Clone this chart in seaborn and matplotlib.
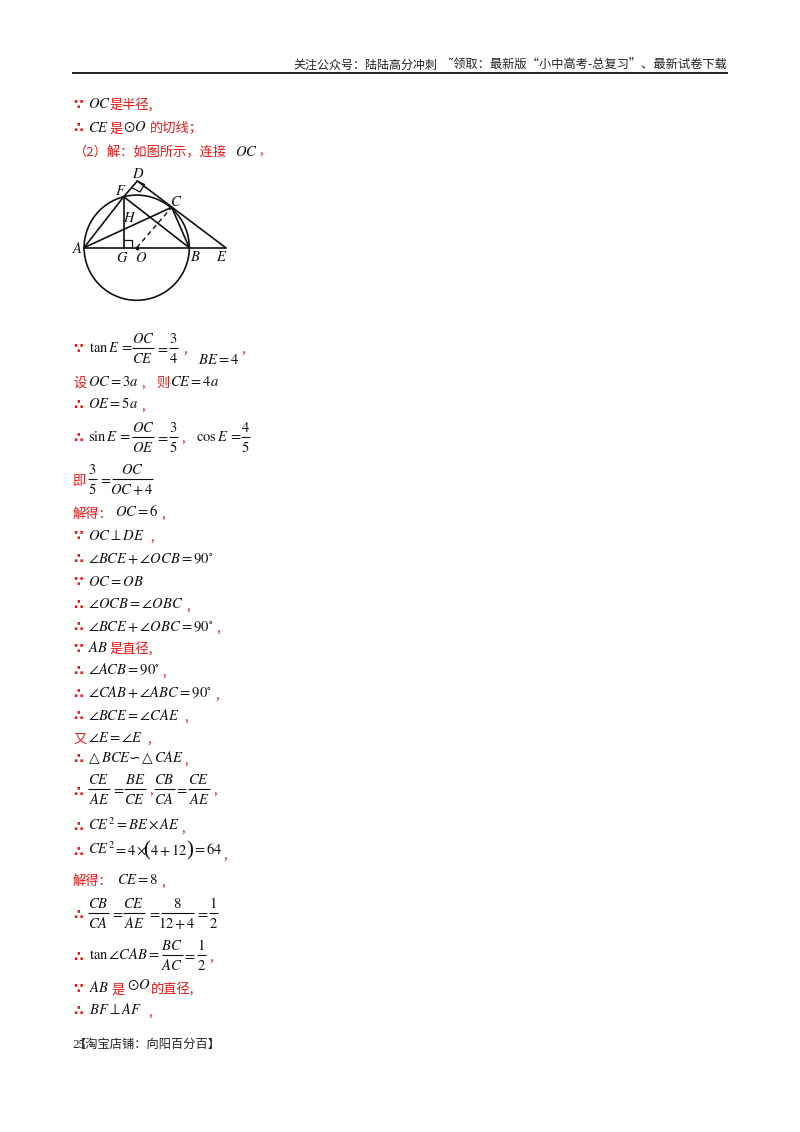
import matplotlib
matplotlib.use("Agg")
import matplotlib.pyplot as plt
from matplotlib.patches import Circle
import pandas as pd
import seaborn as sns

# ---------- text content ----------
HEADER_LEFT = "关注公众号：陆陆高分冲刺"
HEADER_RIGHT = "˜领取：最新版“小中高考-总复习”、最新试卷下载"
FOOTER = "【淘宝店铺：向阳百分百】"
PAGE_NUMBER = "25"
BECAUSE, THEREFORE = "∵", "∴"
SOLVE = "解得："

# ---------- geometry of the figure ----------
POINT_NAMES = ["A", "B", "O", "E", "F", "G", "C", "D", "H"]
POINT_X = [84.0, 189.3, 136.7, 225.7, 123.7, 123.7, 171.7, 137.3, 123.7]
POINT_Y = [247.7, 247.7, 247.7, 247.7, 196.7, 247.7, 207.3, 181.0, 220.0]
SOLID_SEGMENTS = ["AE", "AF", "FG", "AC", "FB", "CB", "DE", "FD"]
DASHED_SEGMENTS = ["OC"]
CIRCLE_RADIUS = 52.6

sns.set_theme(style="white")
plt.rcParams["font.family"] = ["Noto Sans CJK SC", "DejaVu Sans"]
plt.rcParams["mathtext.fontset"] = "stix"
RED = "#f01414"
INK = "#111111"
CJK = 9.5
MATH = 10.5

fig = plt.figure(figsize=(8, 11.32), dpi=100, facecolor="white")
ax = fig.add_axes([0, 0, 1, 1])
ax.set_xlim(0, 800)
ax.set_ylim(1132, 0)
ax.axis("off")


def red(x, y, s, size=CJK):
    ax.text(x, y + 4.5, s, color=RED, fontsize=size, va="baseline", ha="left")


def dots(y, s):
    ax.text(73, y + 4, s, color=RED, fontsize=10, va="baseline", ha="left",
            family="DejaVu Sans", weight="bold")


def mth(x, y, s, size=MATH):
    ax.text(x, y + 4.5, "$" + s + "$", color=INK, fontsize=size, va="baseline", ha="left")


def comma(x, y):
    red(x, y, ",", 9)


def frac(cx, y, num, den, width):
    ax.text(cx, y - 5, "$" + num + "$", color=INK, fontsize=MATH, ha="center", va="baseline")
    ax.text(cx, y + 15, "$" + den + "$", color=INK, fontsize=MATH, ha="center", va="baseline")
    ax.plot([cx - width / 2, cx + width / 2], [y, y], color=INK, lw=0.8, solid_capstyle="butt")


def eq(cx, y):
    ax.text(cx, y + 4.5, "$=$", color=INK, fontsize=MATH, ha="center", va="baseline")


def glyph(x, y, s, size):
    ax.text(x, y + 4.5, s, color=INK, fontsize=size, va="baseline", ha="left", family="DejaVu Sans")


# ---------- header ----------
ax.text(293, 69, HEADER_LEFT, fontsize=8.65, color="#222222", va="baseline")
ax.text(448, 69, HEADER_RIGHT, fontsize=8.85, color="#222222", va="baseline")
ax.plot([72, 728], [72.5, 72.5], color="#222222", lw=1.4, solid_capstyle="butt")

# ---------- top lines ----------
dots(105, BECAUSE); mth(88, 104, "OC"); red(110, 105, "是半径,")
dots(128, THEREFORE); mth(88, 127, "CE"); red(110, 128, "是")
mth(123, 127, r"\odot O"); red(150, 128, "的切线；")
red(74, 152, "（2）解：如图所示，连接"); mth(235, 151, "OC"); comma(259, 150)

# ---------- diagram ----------
pts = pd.DataFrame({"x": POINT_X, "y": POINT_Y}, index=POINT_NAMES)


def segment(name, **kw):
    df = pts.loc[list(name)]
    sns.lineplot(data=df, x="x", y="y", sort=False, estimator=None, ax=ax,
                 color=INK, legend=False, **kw)


for s in SOLID_SEGMENTS:
    segment(s, lw=1.2)
for s in DASHED_SEGMENTS:
    segment(s, lw=1.0, linestyle=(0, (3.5, 2.5)))
ax.add_patch(Circle((pts.x["O"], pts.y["O"]), CIRCLE_RADIUS, fill=False, ec=INK, lw=1.2))
sns.scatterplot(data=pts.loc[["O"]], x="x", y="y", ax=ax, color=INK, s=9, legend=False)
# right-angle marks
ax.plot([123.7, 132, 132], [240, 240, 247.7], color=INK, lw=0.9)
ax.plot([132.5, 140, 144.5, 137.3], [188, 192, 184.5, 181], color=INK, lw=0.9)
for name, lx, ly in [("D", 138, 178), ("F", 121, 195), ("C", 176, 206), ("H", 130, 222),
                     ("A", 77, 253), ("G", 122, 262), ("O", 141, 262), ("B", 195, 261),
                     ("E", 222, 261)]:
    ax.text(lx, ly, "$" + name + "$", color=INK, fontsize=10.5, ha="center", va="baseline")

# ---------- tan E ----------
dots(349, BECAUSE)
mth(89, 347.5, r"\mathrm{tan}\,E\,="); frac(143, 348, "OC", "CE", 22); eq(162, 347.5)
frac(173, 348, "3", "4", 9); comma(183, 349)
mth(198, 359, "BE=4"); comma(241, 349)
red(73, 382, "设"); mth(88, 381, "OC=3a"); comma(141, 383); red(156, 382, "则"); mth(170, 381, "CE=4a")
dots(405, THEREFORE); mth(88, 404, "OE=5a"); comma(141, 406)
dots(438, THEREFORE)
mth(88, 436.5, r"\mathrm{sin}\,E\,="); frac(143, 437, "OC", "OE", 22); eq(162, 436.5)
frac(173, 437, "3", "5", 9); comma(181, 438)
mth(196, 436.5, r"\mathrm{cos}\,E\,="); frac(245, 437, "4", "5", 9)
red(72, 480, "即"); frac(92, 479, "3", "5", 9); eq(105, 478.5)
frac(132, 479, "OC", "OC+4", 41)

# ---------- chain of steps ----------
red(73, 513, SOLVE); mth(115, 512, "OC=6"); comma(161, 514)
dots(536, BECAUSE); mth(88, 535, r"OC\perp DE"); comma(150, 537)
dots(559, THEREFORE); mth(88, 558, r"\angle BCE+\angle OCB=90^{\circ}")
dots(582, BECAUSE); mth(88, 581, "OC=OB")
dots(605, THEREFORE); mth(88, 604, r"\angle OCB=\angle OBC"); comma(186, 606)
dots(627, THEREFORE); mth(88, 626, r"\angle BCE+\angle OBC=90^{\circ}"); comma(216, 628)
dots(649, BECAUSE); mth(88, 648, "AB"); red(110, 649, "是直径,")
dots(671, THEREFORE); mth(88, 670, r"\angle ACB=90^{\circ}"); comma(162, 672)
dots(694, THEREFORE); mth(88, 693, r"\angle CAB+\angle ABC=90^{\circ}"); comma(215, 695)
dots(716, THEREFORE); mth(88, 715, r"\angle BCE=\angle CAE"); comma(184, 717)
red(73, 738, "又"); mth(88, 737, r"\angle E=\angle E"); comma(147, 739)
dots(759, THEREFORE)
glyph(89, 758, "△", 10); mth(101, 758, "BCE"); glyph(129, 757, "∽", 10)
glyph(142, 758, "△", 10); mth(154, 758, "CAE"); comma(184, 760)

dots(792, THEREFORE)
frac(99, 789, "CE", "AE", 22); eq(118, 788.5); frac(135, 789, "BE", "CE", 22); comma(149, 790)
frac(164, 789, "CB", "CA", 21); eq(181, 788.5); frac(199, 789, "CE", "AE", 22); comma(213, 790)
dots(827, THEREFORE); mth(88, 825, r"CE^{2}=BE\times AE"); comma(181, 828)
dots(852, THEREFORE); mth(88, 850, r"CE^{2}"); mth(113, 850, r"=4\times")
ax.text(143.5, 855.5, "(", color=INK, fontsize=15, va="baseline", family="Liberation Serif")
mth(150, 850, "4+12")
ax.text(186, 855.5, ")", color=INK, fontsize=15, va="baseline", family="Liberation Serif")
mth(192, 850, "=64"); comma(223, 855)
red(73, 880, SOLVE); mth(117, 879, "CE=8"); comma(161, 882)

dots(915, THEREFORE)
frac(98, 913, "CB", "CA", 21); eq(117, 912.5); frac(134, 913, "CE", "AE", 22); eq(154, 912.5)
frac(177, 913, "8", "12+4", 33); eq(202, 912.5); frac(213, 913, "1", "2", 9)
dots(957, THEREFORE)
mth(89, 954.5, r"\mathrm{tan}\,\angle CAB="); frac(172, 955, "BC", "AC", 21); eq(189, 954.5)
frac(201, 955, "1", "2", 9); comma(209, 957)
dots(989, BECAUSE); mth(89, 987, "AB"); red(112, 989, "是")
mth(127, 985, r"\odot O"); red(151, 989, "的直径,")
dots(1011, THEREFORE); mth(89, 1010, r"BF\perp AF"); comma(148, 1012)

# ---------- footer ----------
ax.text(72, 1048, PAGE_NUMBER, fontsize=9.5, color="#222222", va="baseline", family="Liberation Serif")
ax.text(74, 1048, FOOTER, fontsize=8.8, color="#222222", va="baseline")

ax.set_xlim(0, 800)
ax.set_ylim(1132, 0)
ax.axis("off")
fig.savefig("out.png", dpi=100, facecolor="white")
